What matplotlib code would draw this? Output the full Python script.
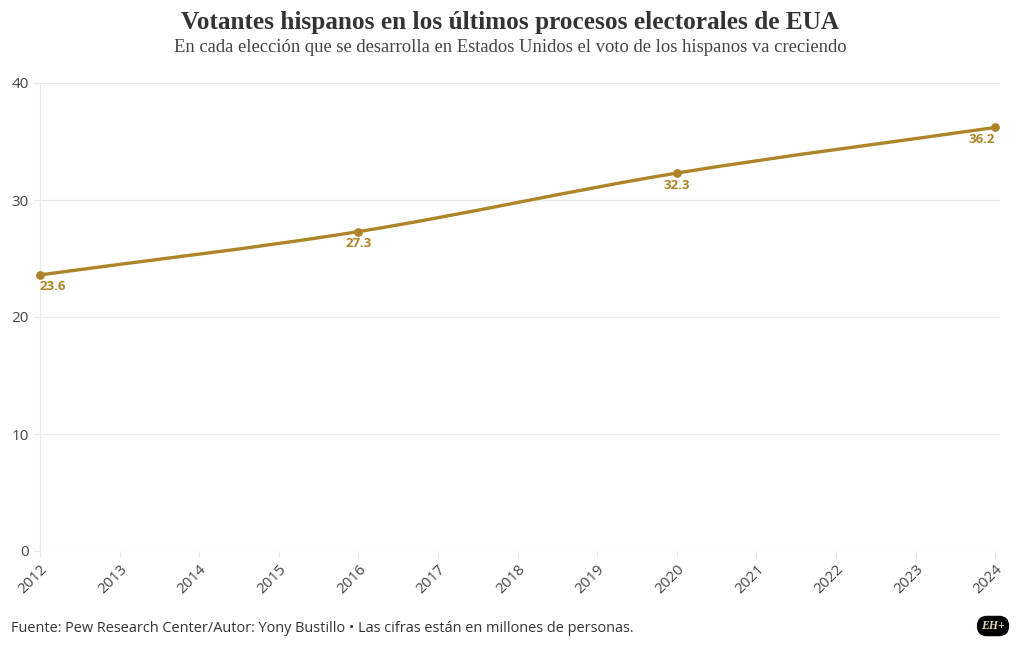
import matplotlib
matplotlib.use("Agg")
import matplotlib.pyplot as plt
from matplotlib.path import Path
from matplotlib.patches import PathPatch
import numpy as np

years = [2012, 2016, 2020, 2024]
votantes = [23.6, 27.3, 32.3, 36.2]
label_texts = ["23.6", "27.3", "32.3", "36.2"]
x_ticks = list(range(2012, 2025))
y_ticks = [0, 10, 20, 30, 40]

title = "Votantes hispanos en los últimos procesos electorales de EUA"
subtitle = "En cada elección que se desarrolla en Estados Unidos el voto de los hispanos va creciendo"
footer = "Fuente: Pew Research Center/Autor: Yony Bustillo • Las cifras están en millones de personas."

LINE = "#AD8427"
GRID = "#E8E8E8"
TXT = "#444444"

fig = plt.figure(figsize=(10.2, 6.5), dpi=100)
ax = fig.add_axes([40/1020, 1-551/650, 960/1020, (551-83)/650])
ax.set_xlim(2012, 2024.06)
ax.set_ylim(0, 40)

# monotone cubic bezier through the data points (rendering of the smooth line)
x = np.array(years, float); y = np.array(votantes, float)
h = np.diff(x); d = np.diff(y) / h
m = np.zeros_like(y)
m[0] = d[0]; m[-1] = d[-1]
for i in range(1, len(x)-1):
    m[i] = (d[i-1]+d[i])/2
verts = [(x[0], y[0])]; codes = [Path.MOVETO]
for i in range(len(x)-1):
    verts += [(x[i]+h[i]/3, y[i]+m[i]*h[i]/3), (x[i+1]-h[i]/3, y[i+1]-m[i+1]*h[i]/3), (x[i+1], y[i+1])]
    codes += [Path.CURVE4]*3
ax.add_patch(PathPatch(Path(verts, codes), fill=False, edgecolor=LINE, lw=2.4, zorder=3, clip_on=False))
ax.scatter(years, votantes, s=28, color=LINE, zorder=4, clip_on=False)

offsets = [(0, -4, "left"), (0, -4, "center"), (0, -4, "center"), (0, -4, "right")]
for xi, yi, t, (dx, dy, ha) in zip(years, votantes, label_texts, offsets):
    ax.annotate(t, (xi, yi), xytext=(dx, dy), textcoords="offset points", ha=ha, va="top",
                fontsize=9.5, fontweight="bold", color=LINE, family="Open Sans")

ax.set_xticks(x_ticks)
ax.set_xticklabels([str(v) for v in x_ticks], rotation=45, ha="right", rotation_mode="anchor",
                   fontsize=10.8, color=TXT, family="Open Sans")
ax.set_yticks(y_ticks)
ax.set_yticklabels([str(v) for v in y_ticks], fontsize=11, color=TXT, family="Open Sans")
ax.tick_params(axis="x", length=5, color=GRID, pad=3)
ax.tick_params(axis="y", length=5, color=GRID, pad=3)
ax.grid(axis="y", color=GRID, lw=0.9)
ax.set_axisbelow(True)
for s in ["top", "right", "bottom"]:
    ax.spines[s].set_visible(False)
ax.spines["left"].set_color(GRID)

fig.text(0.5, 1-23/650, title, ha="center", va="center", fontsize=18.2, fontweight="bold",
         color="#333333", family="Liberation Serif")
fig.text(0.5, 1-47/650, subtitle, ha="center", va="center", fontsize=13.4,
         color="#444444", family="Liberation Serif")
fig.text(11/1020, 1-628/650, footer, ha="left", va="center", fontsize=10.45, color="#333333",
         family="Open Sans")
fig.text(993/1020, 1-626/650, "EH+", ha="center", va="center", fontsize=8.5, fontweight="bold",
         style="italic", color="#E8D9B0", family="Liberation Serif",
         bbox=dict(boxstyle="round,pad=0.3,rounding_size=0.8", fc="black", ec="black"))

fig.savefig("out.png", dpi=100, facecolor="white")
